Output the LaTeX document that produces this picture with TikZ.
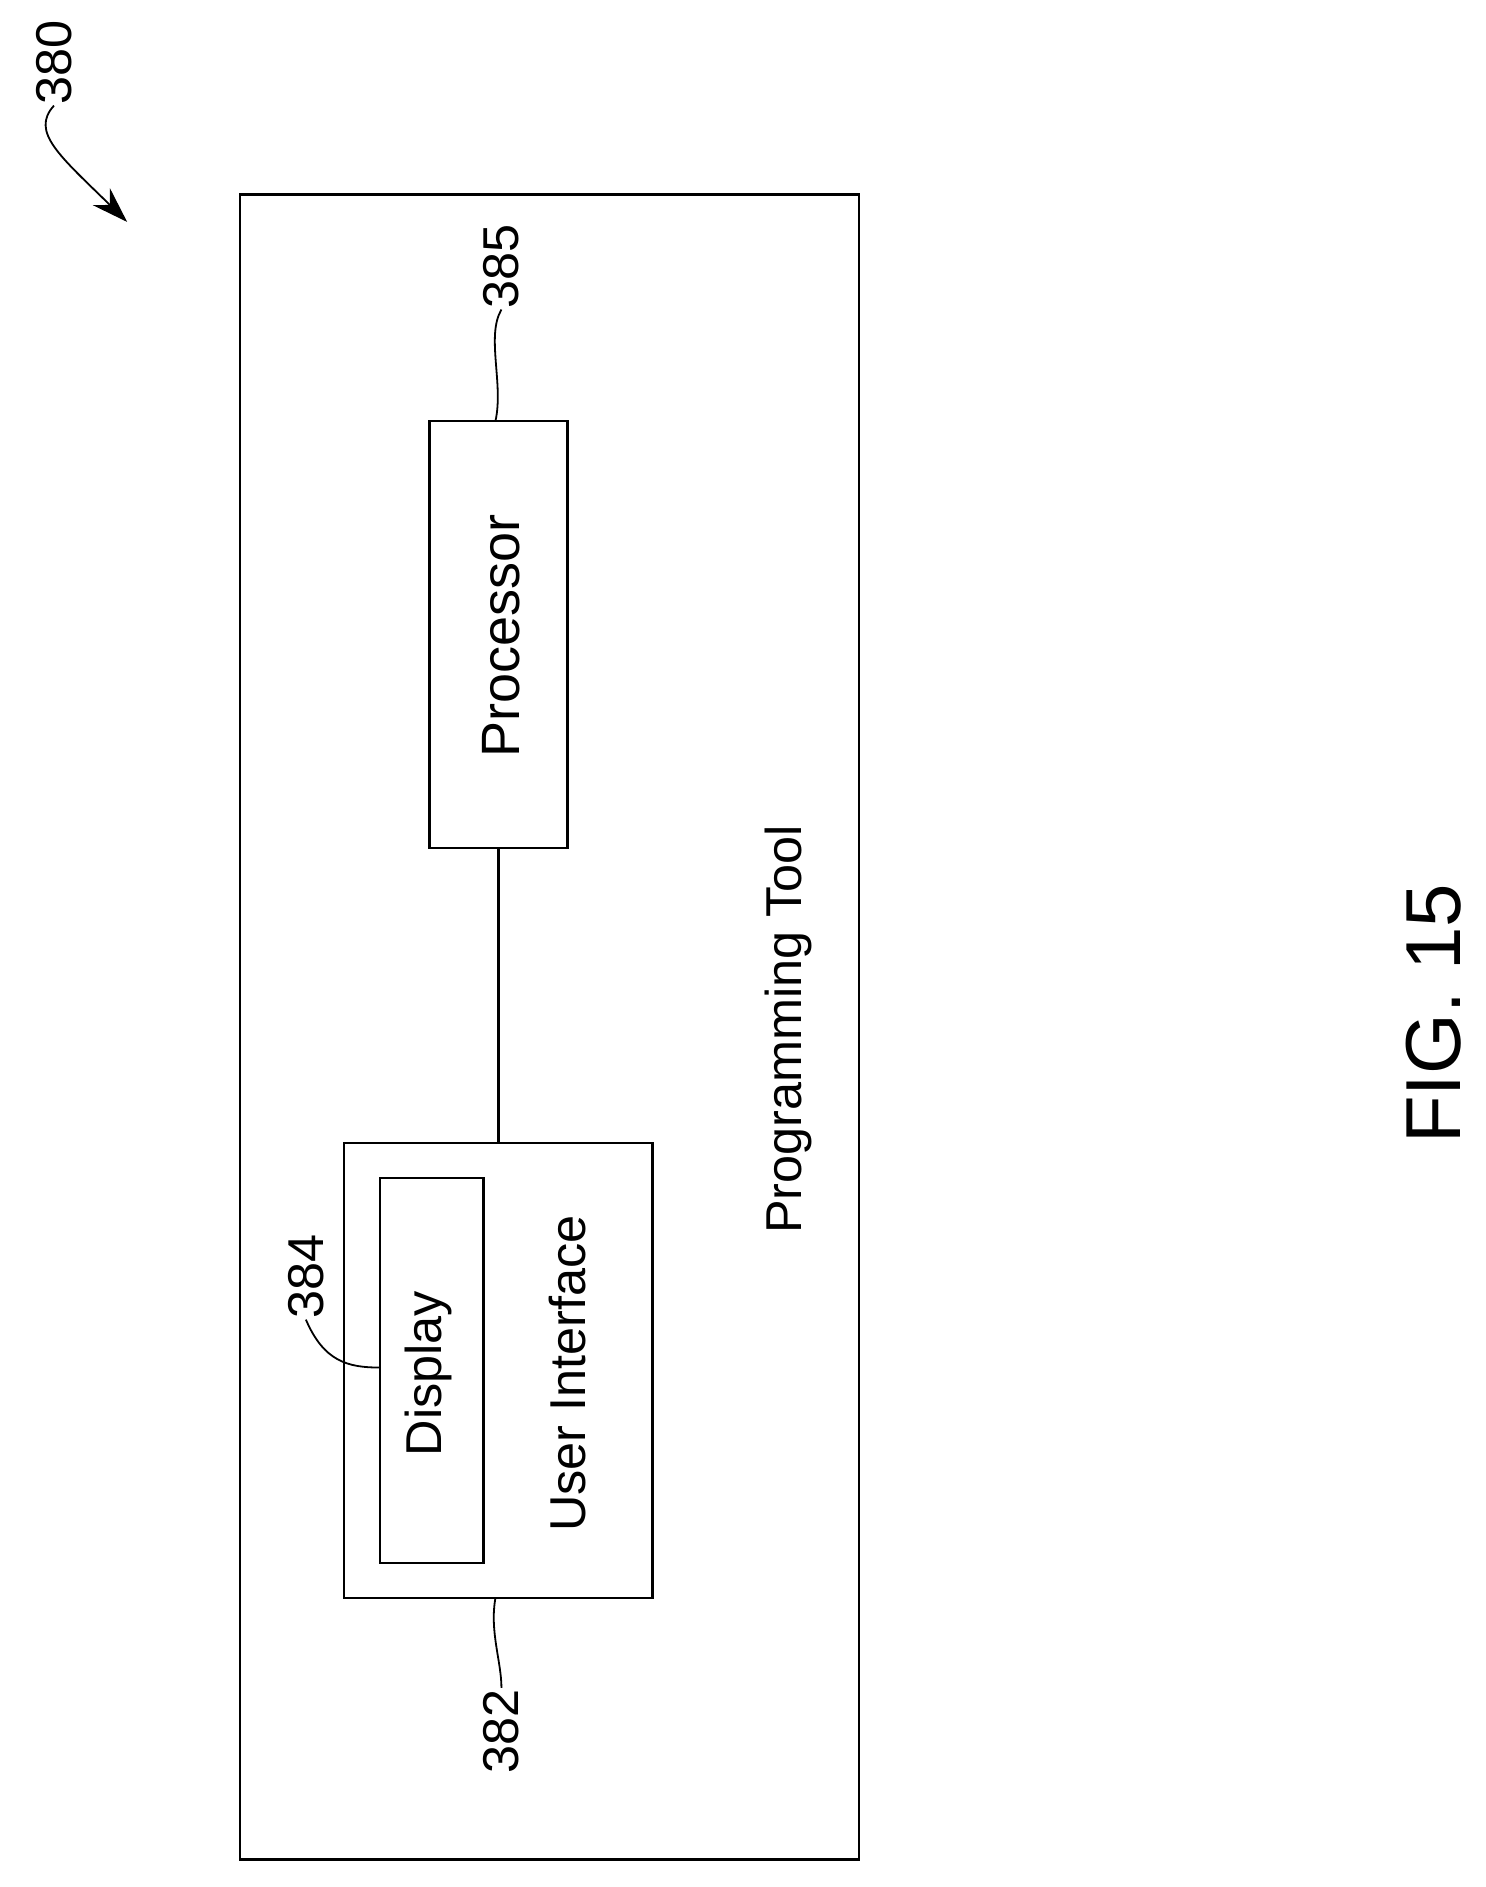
\documentclass[tikz,border=0pt]{standalone}
\usepackage{fontspec}
\setmainfont{Liberation Sans}
\usetikzlibrary{arrows.meta}
\begin{document}
\begin{tikzpicture}[x=1pt,y=-1pt,line width=2pt,
  box/.style={draw,inner sep=0},
  txt/.style={rotate=90,inner sep=0},
  lbl/.style={rotate=90,inner sep=0,font=\fontsize{42}{42}\selectfont}]
\useasboundingbox (0,0) rectangle (1238,1573);
\node[box,minimum width=516,minimum height=1388] (outer) at (458,856) {};
\node[box,minimum width=115,minimum height=356] (proc) at (415.5,529) {};
\node[txt,font=\fontsize{45}{45}\selectfont] (proct) at (418,530) {Processor};
\node[box,minimum width=257,minimum height=379] (ui) at (415.5,1142.5) {};
\node[box,minimum width=86,minimum height=321] (disp) at (360,1142.5) {};
\node[txt,font=\fontsize{42}{42}\selectfont] (dispt) at (357,1145) {Display};
\node[txt,font=\fontsize{42}{42}\selectfont] (uit) at (473,1145) {User Interface};
\node[txt,font=\fontsize{42}{42}\selectfont] (pt) at (657,858) {Programming Tool};
\node[txt,font=\fontsize{65}{65}\selectfont] (fig) at (1195,845) {FIG. 15};
\draw (proc.south) -- (ui.north);
\node[lbl] (l385) at (418,222) {385};
\node[lbl] (l382) at (418,1443) {382};
\node[lbl] (l384) at (255,1064) {384};
\node[lbl] (l380) at (45,52) {380};
\coordinate (p385) at (413,351);
\coordinate (p382) at (413,1332);
\coordinate (p384) at (317,1140);
\coordinate (p380) at (106,185);
\draw[line width=1.5pt] (l385.west) .. controls (405,280) and (420,320) .. (p385);
\draw[line width=1.5pt] (l382.east) .. controls (418,1385) and (408,1360) .. (p382);
\draw[line width=1.5pt] (l384.west) .. controls (270,1135) and (290,1140) .. (p384);
\draw[line width=1.5pt,-{Stealth[length=30pt,width=20pt]}] (l380.west) .. controls (25,110) and (50,130) .. (p380);
\end{tikzpicture}
\end{document}
